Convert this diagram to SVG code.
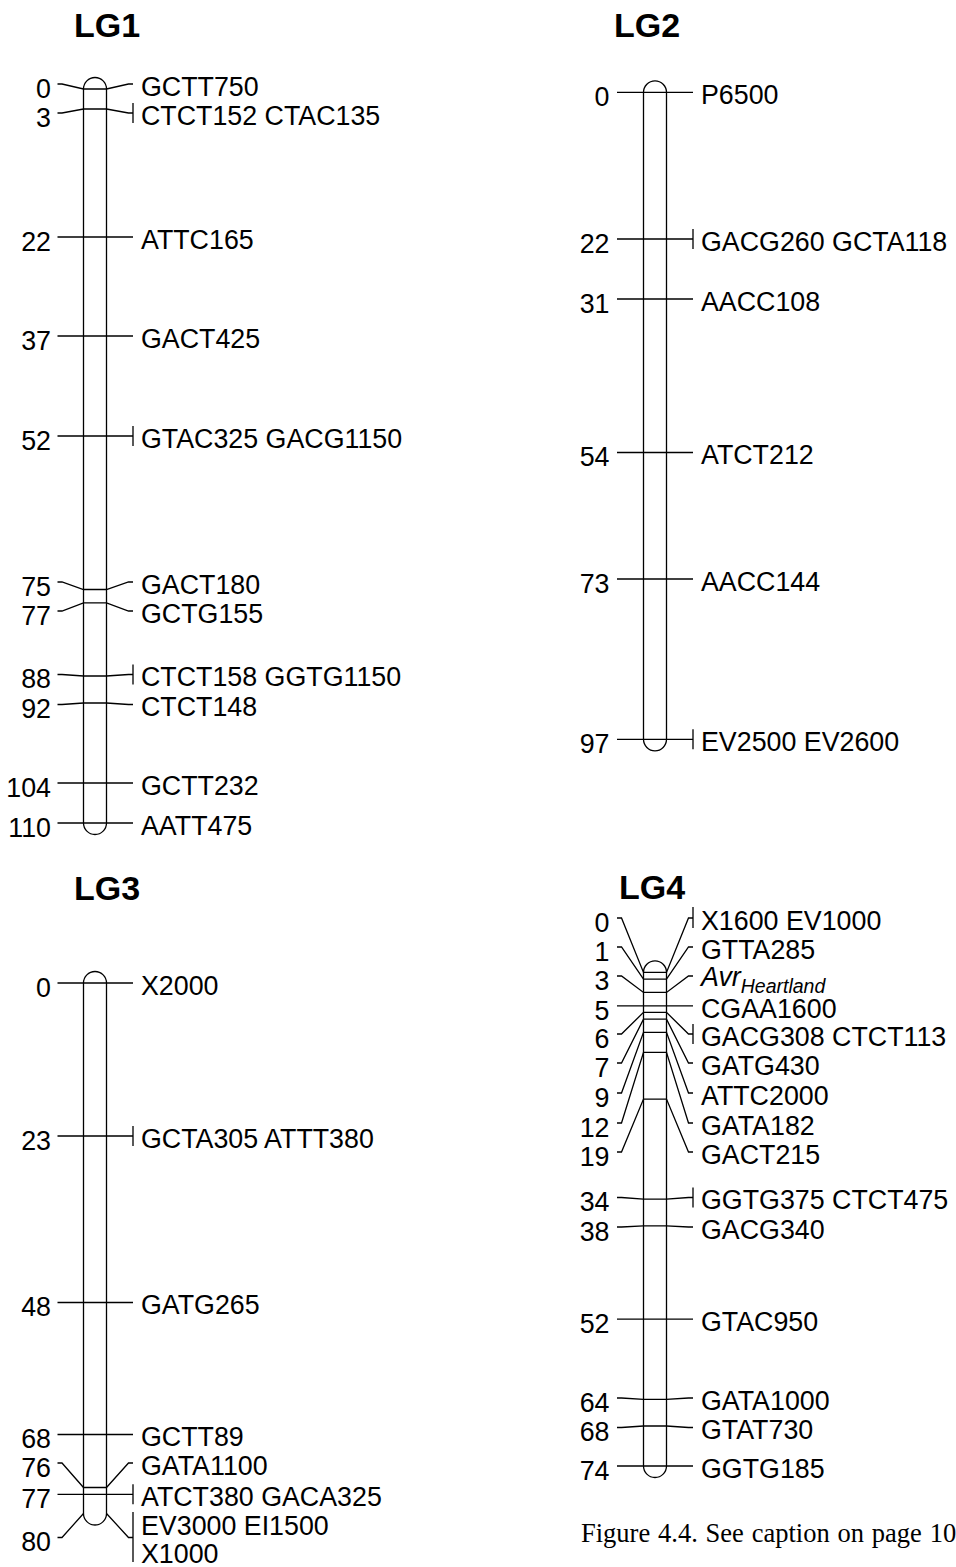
<svg xmlns="http://www.w3.org/2000/svg" width="956" height="1567" viewBox="0 0 956 1567">
<style>
.chr{fill:#fff;stroke:#000;stroke-width:1.3}
.ln{fill:none;stroke:#000;stroke-width:1.3}
text{font-family:"Liberation Sans",Arial,Helvetica,sans-serif;font-size:26.8px;fill:#000}
.l{text-anchor:end}
.ttl{font-weight:bold;font-size:34px}
.cap{font-family:"Liberation Serif","Times New Roman",serif;font-size:26.5px;word-spacing:1.2px}
.it{font-style:italic}
</style>
<rect width="956" height="1567" fill="#fff"/>

<g id="lg1">
<text class="ttl" x="74" y="37">LG1</text>
<rect class="chr" x="83.5" y="77.5" width="23" height="757" rx="11.5" ry="11.5"/>
</g>
<g id="lg2">
<text class="ttl" x="614" y="37">LG2</text>
<rect class="chr" x="643.5" y="80.8" width="23" height="670" rx="11.5" ry="11.5"/>
</g>
<g id="lg3">
<text class="ttl" x="74" y="900">LG3</text>
<rect class="chr" x="83.5" y="971.5" width="23" height="553.5" rx="11.5" ry="11.5"/>
</g>
<g id="lg4">
<text class="ttl" x="619" y="899">LG4</text>
<rect class="chr" x="643.5" y="960.9" width="23" height="516.6" rx="11.5" ry="11.5"/>
</g>

<g id="connectors">
<!-- LG1 -->
<path class="ln" d="M57.5,84 H62 L83.5,89 H106.5 L128.5,84 H133"/>
<path class="ln" d="M57.5,113 H62 L83.5,109 H106.5 L128.5,113 H133 M133,103 V123"/>
<path class="ln" d="M57.5,237 H133"/>
<path class="ln" d="M57.5,336 H133"/>
<path class="ln" d="M57.5,436 H133 M133,426 V446"/>
<path class="ln" d="M57.5,582 H62 L83.5,589.5 H106.5 L128.5,582 H133"/>
<path class="ln" d="M57.5,611 H62 L83.5,602.8 H106.5 L128.5,611 H133"/>
<path class="ln" d="M57.5,674.5 H62 L83.5,676 H106.5 L128.5,674.5 H133 M133,664.5 V684.5"/>
<path class="ln" d="M57.5,704.5 H62 L83.5,703 H106.5 L128.5,704.5 H133"/>
<path class="ln" d="M57.5,783 H133"/>
<path class="ln" d="M57.5,823 H133"/>
<!-- LG2 -->
<path class="ln" d="M617,92.3 H693"/>
<path class="ln" d="M617,239 H693 M693,229 V249"/>
<path class="ln" d="M617,299 H693"/>
<path class="ln" d="M617,452.5 H693"/>
<path class="ln" d="M617,579 H693"/>
<path class="ln" d="M617,739.3 H693 M693,729.3 V749.3"/>
<!-- LG3 -->
<path class="ln" d="M57.5,983 H133"/>
<path class="ln" d="M57.5,1136 H133 M133,1126 V1146"/>
<path class="ln" d="M57.5,1302.5 H133"/>
<path class="ln" d="M57.5,1434.5 H133"/>
<path class="ln" d="M57.5,1463 H62 L83.5,1487.5 H106.5 L128.5,1463 H133"/>
<path class="ln" d="M57.5,1494.3 H133 M133,1484.3 V1504.3"/>
<path class="ln" d="M57.5,1537.5 H62 L83.5,1513.5 M106.5,1513.5 L128.5,1537.5 H133 M133,1512 V1562"/>
<!-- LG4 -->
<path class="ln" d="M617,918 H621.5 L643.5,972.4 H666.5 L688.5,918 H693 M693,907 V928"/>
<path class="ln" d="M617,947 H621.5 L643.5,979.1 H666.5 L688.5,947 H693"/>
<path class="ln" d="M617,976 H621.5 L643.5,992.4 H666.5 L688.5,976 H693"/>
<path class="ln" d="M617,1005.8 H693"/>
<path class="ln" d="M617,1034 H621.5 L643.5,1012.4 H666.5 L688.5,1034 H693 M693,1024 V1044"/>
<path class="ln" d="M617,1063 H621.5 L643.5,1019.1 H666.5 L688.5,1063 H693"/>
<path class="ln" d="M617,1093 H621.5 L643.5,1032.4 H666.5 L688.5,1093 H693"/>
<path class="ln" d="M617,1123 H621.5 L643.5,1052.4 H666.5 L688.5,1123 H693"/>
<path class="ln" d="M617,1152 H621.5 L643.5,1099.1 H666.5 L688.5,1152 H693"/>
<path class="ln" d="M617,1197.5 H621.5 L643.5,1199.2 H666.5 L688.5,1197.5 H693 M693,1187.5 V1207.5"/>
<path class="ln" d="M617,1227 H621.5 L643.5,1225.9 H666.5 L688.5,1227 H693"/>
<path class="ln" d="M617,1319.2 H693"/>
<path class="ln" d="M617,1398 H621.5 L643.5,1399.3 H666.5 L688.5,1398 H693"/>
<path class="ln" d="M617,1427.5 H621.5 L643.5,1426 H666.5 L688.5,1427.5 H693"/>
<path class="ln" d="M617,1466 H693"/>
</g>

<g id="lg1-labels">
<text class="l" x="51" y="97.8">0</text><text x="141" y="95.8">GCTT750</text>
<text class="l" x="51" y="126.8">3</text><text x="141" y="124.8">CTCT152 CTAC135</text>
<text class="l" x="51" y="250.8">22</text><text x="141" y="248.8">ATTC165</text>
<text class="l" x="51" y="349.8">37</text><text x="141" y="347.8">GACT425</text>
<text class="l" x="51" y="449.8">52</text><text x="141" y="447.8">GTAC325 GACG1150</text>
<text class="l" x="51" y="595.8">75</text><text x="141" y="593.8">GACT180</text>
<text class="l" x="51" y="624.8">77</text><text x="141" y="622.8">GCTG155</text>
<text class="l" x="51" y="688.3">88</text><text x="141" y="686.3">CTCT158 GGTG1150</text>
<text class="l" x="51" y="718.3">92</text><text x="141" y="716.3">CTCT148</text>
<text class="l" x="51" y="796.8">104</text><text x="141" y="794.8">GCTT232</text>
<text class="l" x="51" y="836.8">110</text><text x="141" y="834.8">AATT475</text>
</g>
<g id="lg2-labels">
<text class="l" x="609.5" y="106.1">0</text><text x="701" y="104.1">P6500</text>
<text class="l" x="609.5" y="252.8">22</text><text x="701" y="250.8">GACG260 GCTA118</text>
<text class="l" x="609.5" y="312.8">31</text><text x="701" y="310.8">AACC108</text>
<text class="l" x="609.5" y="466.3">54</text><text x="701" y="464.3">ATCT212</text>
<text class="l" x="609.5" y="592.8">73</text><text x="701" y="590.8">AACC144</text>
<text class="l" x="609.5" y="753.1">97</text><text x="701" y="751.1">EV2500 EV2600</text>
</g>
<g id="lg3-labels">
<text class="l" x="51" y="996.8">0</text><text x="141" y="994.8">X2000</text>
<text class="l" x="51" y="1149.8">23</text><text x="141" y="1147.8">GCTA305 ATTT380</text>
<text class="l" x="51" y="1316.3">48</text><text x="141" y="1314.3">GATG265</text>
<text class="l" x="51" y="1448.3">68</text><text x="141" y="1446.3">GCTT89</text>
<text class="l" x="51" y="1476.8">76</text><text x="141" y="1474.8">GATA1100</text>
<text class="l" x="51" y="1508.1">77</text><text x="141" y="1506.1">ATCT380 GACA325</text>
<text class="l" x="51" y="1551.3">80</text><text x="141" y="1535.3">EV3000 EI1500</text>
<text x="141" y="1563.3">X1000</text>
</g>
<g id="lg4-labels">
<text class="l" x="609.5" y="931.8">0</text><text x="701" y="929.8">X1600 EV1000</text>
<text class="l" x="609.5" y="960.8">1</text><text x="701" y="958.8">GTTA285</text>
<text class="l" x="609.5" y="989.8">3</text><text class="it" x="701" y="985.5">Avr<tspan font-size="19.5" dy="7">Heartland</tspan></text>
<text class="l" x="609.5" y="1019.6">5</text><text x="701" y="1017.6">CGAA1600</text>
<text class="l" x="609.5" y="1047.8">6</text><text x="701" y="1045.8">GACG308 CTCT113</text>
<text class="l" x="609.5" y="1076.8">7</text><text x="701" y="1074.8">GATG430</text>
<text class="l" x="609.5" y="1106.8">9</text><text x="701" y="1104.8">ATTC2000</text>
<text class="l" x="609.5" y="1136.8">12</text><text x="701" y="1134.8">GATA182</text>
<text class="l" x="609.5" y="1165.8">19</text><text x="701" y="1163.8">GACT215</text>
<text class="l" x="609.5" y="1211.3">34</text><text x="701" y="1209.3">GGTG375 CTCT475</text>
<text class="l" x="609.5" y="1240.8">38</text><text x="701" y="1238.8">GACG340</text>
<text class="l" x="609.5" y="1333">52</text><text x="701" y="1331">GTAC950</text>
<text class="l" x="609.5" y="1411.8">64</text><text x="701" y="1409.8">GATA1000</text>
<text class="l" x="609.5" y="1441.3">68</text><text x="701" y="1439.3">GTAT730</text>
<text class="l" x="609.5" y="1479.8">74</text><text x="701" y="1477.8">GGTG185</text>
</g>

<text class="cap" x="581" y="1541.5">Figure 4.4. See caption on page 105</text>
</svg>
